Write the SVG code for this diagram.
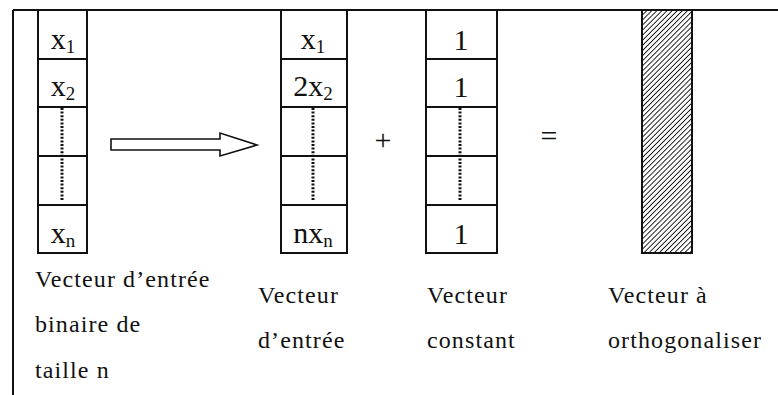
<svg xmlns="http://www.w3.org/2000/svg" width="778" height="395" viewBox="0 0 778 395">
  <style>
    .cell { fill: #ffffff; stroke: #111111; stroke-width: 2; }
    .dots { stroke: #111111; stroke-width: 3; stroke-dasharray: 2 1.6; fill: none; }
    .val { font-family: "Liberation Serif", "Times New Roman", serif; font-size: 30px; fill: #111111; text-anchor: middle; }
    .sub { font-size: 19px; }
    .op { font-family: "Liberation Serif", "Times New Roman", serif; font-size: 30px; fill: #111111; text-anchor: middle; }
    .lbl { font-family: "Liberation Serif", "Times New Roman", serif; font-size: 24px; fill: #111111; letter-spacing: 1.1px; }
    .frame { stroke: #111111; stroke-width: 2; fill: none; }
  </style>
  <defs>
    <pattern id="hatch" patternUnits="userSpaceOnUse" width="3.6" height="3.6" patternTransform="rotate(45)">
      <rect width="3.6" height="3.6" fill="#ffffff"/>
      <line x1="0" y1="0" x2="0" y2="3.6" stroke="#111111" stroke-width="1.8"/>
    </pattern>
  </defs>
  <rect width="778" height="395" fill="#ffffff"/>

  <g id="frame">
    <line class="frame" x1="13" y1="10" x2="778" y2="10"/>
    <line class="frame" x1="13" y1="10" x2="13" y2="395"/>
  </g>

  <g id="vec-binaire">
    <rect class="cell" x="38" y="10" width="49" height="49"/>
    <rect class="cell" x="38" y="59" width="49" height="48"/>
    <rect class="cell" x="38" y="107" width="49" height="49"/>
    <rect class="cell" x="38" y="156" width="49" height="49"/>
    <rect class="cell" x="38" y="205" width="49" height="48"/>
    <line class="dots" x1="62" y1="108" x2="62" y2="201"/>
    <text class="val" x="63" y="49">x<tspan class="sub" dy="4">1</tspan></text>
    <text class="val" x="63" y="96">x<tspan class="sub" dy="4">2</tspan></text>
    <text class="val" x="63" y="243">x<tspan class="sub" dy="4">n</tspan></text>
    <text class="lbl" x="35" y="287">Vecteur d’entrée</text>
    <text class="lbl" x="35" y="332">binaire de</text>
    <text class="lbl" x="35" y="378">taille n</text>
  </g>

  <g id="vec-entree">
    <rect class="cell" x="281" y="10" width="66" height="49"/>
    <rect class="cell" x="281" y="59" width="66" height="48"/>
    <rect class="cell" x="281" y="107" width="66" height="49"/>
    <rect class="cell" x="281" y="156" width="66" height="49"/>
    <rect class="cell" x="281" y="205" width="66" height="48"/>
    <line class="dots" x1="313" y1="108" x2="313" y2="201"/>
    <text class="val" x="313" y="49">x<tspan class="sub" dy="4">1</tspan></text>
    <text class="val" x="313" y="96">2x<tspan class="sub" dy="4">2</tspan></text>
    <text class="val" x="313" y="243">nx<tspan class="sub" dy="4">n</tspan></text>
    <text class="lbl" x="258" y="303">Vecteur</text>
    <text class="lbl" x="258" y="348">d’entrée</text>
  </g>

  <g id="op-plus">
    <text class="op" x="383" y="150">+</text>
  </g>

  <g id="vec-constant">
    <rect class="cell" x="426" y="10" width="71" height="49"/>
    <rect class="cell" x="426" y="59" width="71" height="48"/>
    <rect class="cell" x="426" y="107" width="71" height="49"/>
    <rect class="cell" x="426" y="156" width="71" height="49"/>
    <rect class="cell" x="426" y="205" width="71" height="48"/>
    <line class="dots" x1="460" y1="108" x2="460" y2="201"/>
    <text class="val" x="461" y="50">1</text>
    <text class="val" x="461" y="97">1</text>
    <text class="val" x="461" y="244">1</text>
    <text class="lbl" x="427" y="303">Vecteur</text>
    <text class="lbl" x="427" y="348">constant</text>
  </g>

  <g id="op-egal">
    <text class="op" x="549" y="146">=</text>
  </g>

  <g id="vec-ortho">
    <rect x="642" y="10" width="50" height="243" fill="url(#hatch)" stroke="#111111" stroke-width="2"/>
    <text class="lbl" x="608" y="303">Vecteur à</text>
    <text class="lbl" x="608" y="348">orthogonaliser</text>
  </g>

  <g id="connectors">
    <polygon points="111,139 220,139 220,133 257,145 220,156 220,150 111,150" fill="#ffffff" stroke="#111111" stroke-width="1.6" stroke-linejoin="miter"/>
  </g>
</svg>
